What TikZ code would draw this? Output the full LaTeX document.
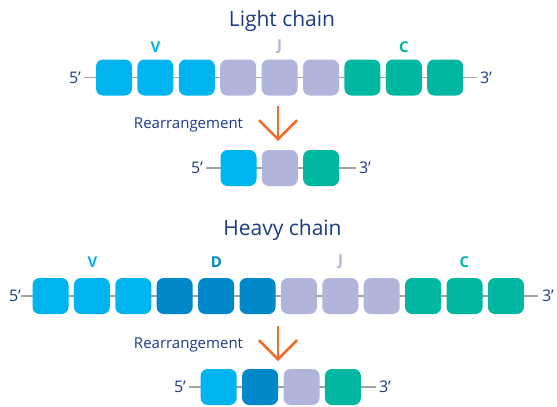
\documentclass[tikz,border=0pt]{standalone}
\usepackage{fontspec}
\setmainfont{Open Sans}
\usetikzlibrary{arrows.meta,backgrounds}
\definecolor{cV}{HTML}{00B5EF}
\definecolor{cD}{HTML}{0088CB}
\definecolor{cJ}{HTML}{B1B5DB}
\definecolor{cC}{HTML}{00B8A1}
\definecolor{navy}{HTML}{1C3B87}
\definecolor{lgray}{HTML}{A3A3A3}
\definecolor{orng}{HTML}{F26A2C}
\tikzset{
  seg/.style={minimum width=36pt,minimum height=36pt,inner sep=0pt,rounded corners=7pt},
  segV/.style={seg,fill=cV},
  segD/.style={seg,fill=cD},
  segJ/.style={seg,fill=cJ},
  segC/.style={seg,fill=cC},
  ttl/.style={text=navy,font=\fontsize{21}{24}\selectfont,inner sep=0pt},
  endl/.style={text=navy,font=\fontsize{16}{18}\selectfont,inner sep=0pt},
  grp/.style={font=\bfseries\fontsize{15}{17}\selectfont,inner sep=0pt},
  rearr/.style={text=navy,font=\fontsize{15}{17}\selectfont,inner sep=0pt},
  strand/.style={draw=lgray,line width=1.4pt},
  rarrow/.style={draw=orng,line width=2.6pt,-{Straight Barb[length=19pt,width=38pt]}}
}
\begin{document}
\begin{tikzpicture}[x=1pt,y=-1pt]
\useasboundingbox (0,0) rectangle (557,407);
% ---------- Light chain ----------
\node[ttl] (lt) at (282,21) {Light chain};
\node[grp,text=cV] (lV) at (155.4,47) {V};
\node[grp,text=cJ] (lJ) at (279.6,47) {J};
\node[grp,text=cC] (lC) at (403.8,47) {C};
\node[endl] (l5) at (75,77.5) {5’};
\node[endl] (l3) at (486,77.5) {3’};
\foreach \i/\s in {0/segV,1/segV,2/segV,3/segJ,4/segJ,5/segJ,6/segC,7/segC,8/segC}{
  \node[\s] (lb\i) at ({114+41.4*\i},77.5) {};
}
\begin{scope}[on background layer]
\draw[strand] ([xshift=3pt]l5.east) -- ([xshift=-3pt]l3.west);
\end{scope}
% rearrangement 1
\node[rearr] (r1) at (188.5,125) {Rearrangement};
\coordinate (a1s) at (278,106);
\coordinate (a1e) at (278,141);
\draw[rarrow] (a1s) -- (a1e);
% small light row
\node[endl] (s5) at (197,168) {5’};
\node[endl] (s3) at (365,168) {3’};
\node[segV] (sb0) at (238.5,168) {};
\node[segJ] (sb1) at (279.8,168) {};
\node[segC] (sb2) at (321.1,168) {};
\begin{scope}[on background layer]
\draw[strand] ([xshift=3pt]s5.east) -- ([xshift=-3pt]s3.west);
\end{scope}
% ---------- Heavy chain ----------
\node[ttl] (ht) at (282.5,230) {Heavy chain};
\node[grp,text=cV] (hV) at (92.5,262) {V};
\node[grp,text=cD] (hD) at (216.5,262) {D};
\node[grp,text=cJ] (hJ) at (340.5,262) {J};
\node[grp,text=cC] (hC) at (464.5,262) {C};
\node[endl] (h5) at (15,296) {5’};
\node[endl] (h3) at (548,296) {3’};
\foreach \i/\s in {0/segV,1/segV,2/segV,3/segD,4/segD,5/segD,6/segJ,7/segJ,8/segJ,9/segC,10/segC,11/segC}{
  \node[\s] (hb\i) at ({50.5+41.4*\i},296) {};
}
\begin{scope}[on background layer]
\draw[strand] (h5.east) -- ([xshift=-4pt]h3.west);
\end{scope}
% rearrangement 2
\node[rearr] (r2) at (188.5,345) {Rearrangement};
\coordinate (a2s) at (278,326);
\coordinate (a2e) at (278,361);
\draw[rarrow] (a2s) -- (a2e);
% small heavy row
\node[endl] (t5) at (180,387) {5’};
\node[endl] (t3) at (385,387) {3’};
\node[segV] (tb0) at (218.7,387) {};
\node[segD] (tb1) at (260.1,387) {};
\node[segJ] (tb2) at (301.5,387) {};
\node[segC] (tb3) at (342.9,387) {};
\begin{scope}[on background layer]
\draw[strand] ([xshift=3pt]t5.east) -- ([xshift=-3pt]t3.west);
\end{scope}
\end{tikzpicture}
\end{document}
